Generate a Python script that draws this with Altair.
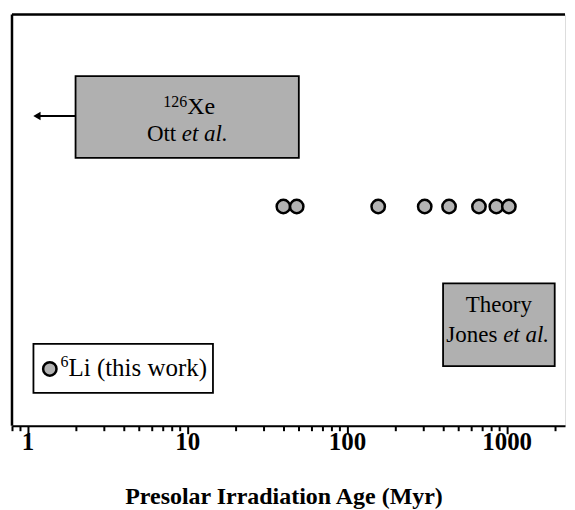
import altair as alt
import pandas as pd

# ---------------- data ----------------
AGES = [40, 48.5, 157, 307, 436, 671, 862, 1033]      # 6Li ages (Myr)
AGE_LEVEL = 5.33                                        # vertical level of the points

MAJOR_TICKS = [1, 10, 100, 1000]
MINOR_TICKS = [0.8, 0.9, 2, 3, 4, 5, 6, 7, 8, 9, 20, 30, 40, 50, 60, 70, 80, 90,
               200, 300, 400, 500, 600, 700, 800, 900, 2000]

X_DOMAIN = [0.8, 2320]
Y_DOMAIN = [0, 10]

# grey boxes: 126Xe (Ott et al.) and Theory (Jones et al.)
BOX_X1 = [2.0, 400]
BOX_X2 = [50, 2000]
BOX_Y1 = [6.51, 1.45]
BOX_Y2 = [8.50, 3.46]

# legend box
LEG_X1, LEG_X2 = [1.09], [14.5]
LEG_Y1, LEG_Y2 = [0.80], [1.99]
LEG_MARK_X, LEG_MARK_Y = [1.38], [1.38]
LEG_TEXT_X = [1.61]

# arrow (Xe box pointing to younger ages)
ARROW_FROM, ARROW_TO, ARROW_Y = [2.0], [1.146], [7.53]

# text anchors
XE_X, XE_Y = [10], [7.51]
TH_X, TH_Y = [894], [2.458]

TITLE = "Presolar Irradiation Age (Myr)"
SERIF = "Liberation Serif"
GREY = "#b3b3b3"

# ---------------- scales / axis ----------------
xs = alt.Scale(type="log", domain=X_DOMAIN, nice=False)
ys = alt.Scale(domain=Y_DOMAIN, nice=False, zero=False)

major_test = " || ".join(f"datum.value == {v}" for v in MAJOR_TICKS)
xaxis = alt.Axis(
    values=sorted(MAJOR_TICKS + MINOR_TICKS),
    labelExpr=f"({major_test}) ? format(datum.value, 'd') : ''",
    tickSize={"condition": {"test": major_test, "value": 8}, "value": 5},
    tickWidth=2, tickColor="black",
    domainColor="black", domainWidth=2,
    labelFont=SERIF, labelFontWeight="bold", labelFontSize=25, labelColor="black",
    labelPadding=-4, labelOverlap=False, labelFlush=False, labelBound=False,
    grid=False,
    title=TITLE, titleFont=SERIF, titleFontWeight="bold", titleFontSize=24,
    titleColor="black", titleX=272, titleY=71, titleBaseline="middle", titleAlign="center",
)


def X(field="x"):
    return alt.X(f"{field}:Q", scale=xs, axis=xaxis)


def Y(field="y"):
    return alt.Y(f"{field}:Q", scale=ys, axis=None)


# ---------------- frame (left + top) ----------------
frame_left = alt.Chart(pd.DataFrame({"x": [X_DOMAIN[0]], "y": [Y_DOMAIN[0]], "y2": [Y_DOMAIN[1]]})).mark_rule(
    color="black", strokeWidth=2.5).encode(x=X(), y=Y(), y2="y2:Q")
frame_top = alt.Chart(pd.DataFrame({"x": [X_DOMAIN[0]], "x2": [X_DOMAIN[1]], "y": [Y_DOMAIN[1]]})).mark_rule(
    color="black", strokeWidth=2.5).encode(x=X(), x2="x2:Q", y=Y())

# ---------------- boxes ----------------
boxes = alt.Chart(pd.DataFrame({"x": BOX_X1, "x2": BOX_X2, "y": BOX_Y1, "y2": BOX_Y2})).mark_rect(
    fill="#b0b0b0", stroke="black", strokeWidth=1.8).encode(x=X(), x2="x2:Q", y=Y(), y2="y2:Q")

legend_box = alt.Chart(pd.DataFrame({"x": LEG_X1, "x2": LEG_X2, "y": LEG_Y1, "y2": LEG_Y2})).mark_rect(
    fill="white", stroke="black", strokeWidth=1.8).encode(x=X(), x2="x2:Q", y=Y(), y2="y2:Q")

# ---------------- arrow ----------------
arrow_line = alt.Chart(pd.DataFrame({"x": ARROW_FROM, "x2": ARROW_TO, "y": ARROW_Y})).mark_rule(
    color="black", strokeWidth=2).encode(x=X(), x2="x2:Q", y=Y())
arrow_head = alt.Chart(pd.DataFrame({"x": ARROW_TO, "y": ARROW_Y})).mark_point(
    shape="triangle-left", filled=True, color="black", size=70, opacity=1).encode(x=X(), y=Y())

# ---------------- points ----------------
pts = alt.Chart(pd.DataFrame({"x": AGES, "y": [AGE_LEVEL] * len(AGES)})).mark_point(
    shape="circle", filled=True, fill=GREY, stroke="black", strokeWidth=2.5, size=180, opacity=1
).encode(x=X(), y=Y())

leg_pt = alt.Chart(pd.DataFrame({"x": LEG_MARK_X, "y": LEG_MARK_Y})).mark_point(
    shape="circle", filled=True, fill=GREY, stroke="black", strokeWidth=2.5, size=180, opacity=1
).encode(x=X(), y=Y())


# ---------------- texts ----------------
def txt(xv, yv, s, dx, dy, align, size, italic=False):
    return alt.Chart(pd.DataFrame({"x": xv, "y": yv, "t": [s]})).mark_text(
        font=SERIF, fontSize=size, fontStyle="italic" if italic else "normal",
        align=align, baseline="alphabetic", dx=dx, dy=dy, color="black"
    ).encode(x=X(), y=Y(), text="t:N")


texts = [
    txt(XE_X, XE_Y, "126", 0, -10, "right", 16),
    txt(XE_X, XE_Y, "Xe", 0, -3, "left", 24),
    txt(XE_X, XE_Y, "Ott", -11, 24, "right", 23),
    txt(XE_X, XE_Y, "et al.", -5.4, 24, "left", 23, True),
    txt(TH_X, TH_Y, "Theory", 0, -13, "center", 23),
    txt(TH_X, TH_Y, "Jones", -1.5, 17, "right", 23),
    txt(TH_X, TH_Y, "et al.", 4.3, 17, "left", 23, True),
    txt(LEG_TEXT_X, LEG_MARK_Y, "6", 0, -2, "left", 16),
    txt(LEG_TEXT_X, LEG_MARK_Y, "Li (this work)", 8, 7, "left", 25),
]

chart = alt.layer(
    boxes, legend_box, arrow_line, arrow_head, pts, leg_pt, *texts, frame_left, frame_top
).properties(
    width=554, height=412,
    padding={"left": 2, "top": 4, "right": 0, "bottom": 0},
).configure_view(stroke=None).configure(background="white")

chart.save("out.html", embed_options={"renderer": "svg", "actions": False})
